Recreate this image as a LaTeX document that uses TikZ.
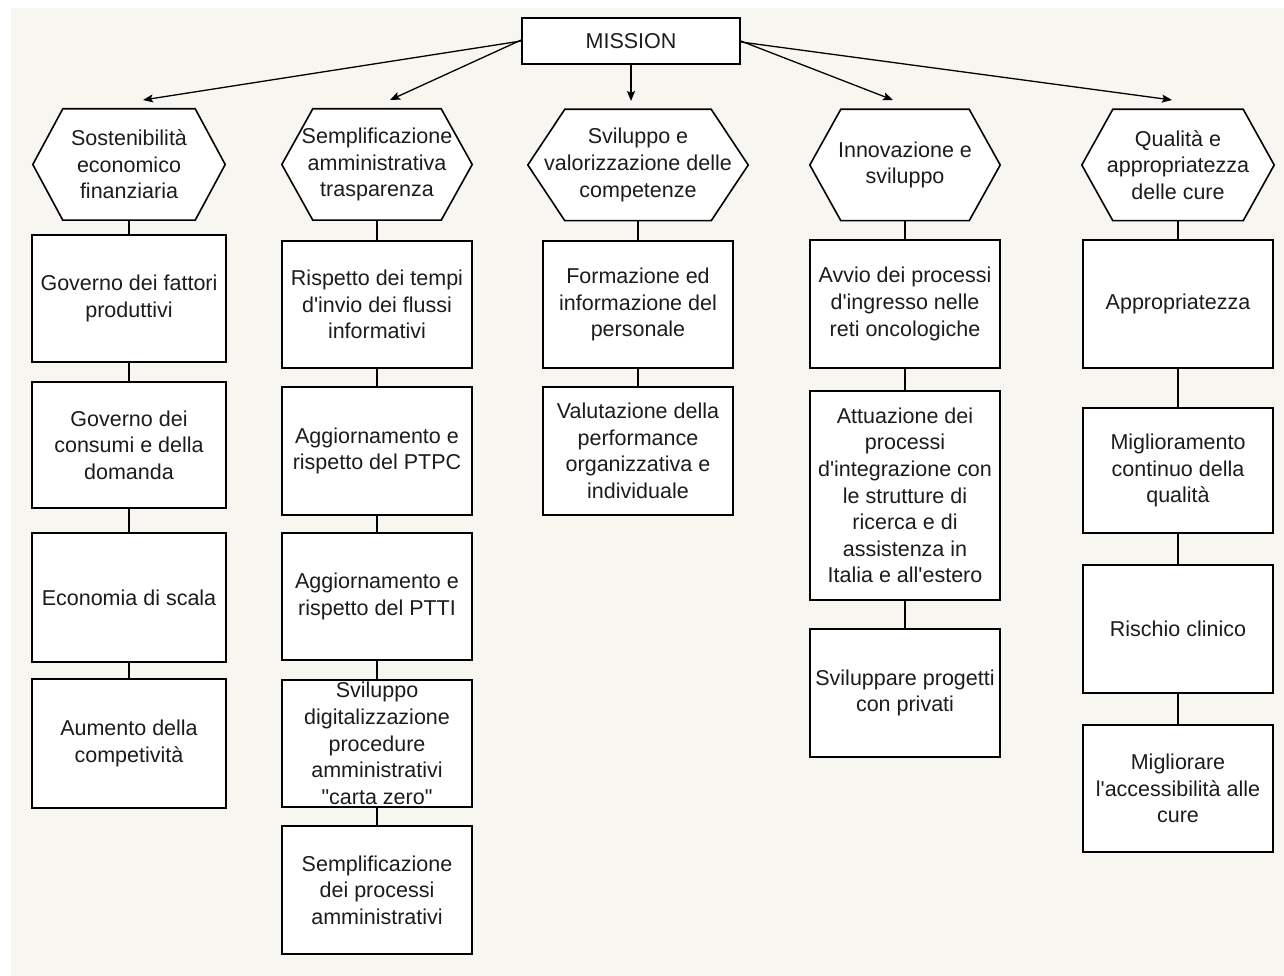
\documentclass[tikz,border=0pt]{standalone}
\usepackage{fontspec}
\setmainfont{Liberation Sans}
\usetikzlibrary{arrows.meta,backgrounds,calc}
\definecolor{bgbeige}{RGB}{248,246,241}
\definecolor{txt}{RGB}{28,28,28}
\newcommand\apos{\textquotesingle}
\begin{document}
\begin{tikzpicture}[x=1pt,y=-1pt,
  lbl/.style={align=center,text=txt,font=\fontsize{21.5}{26.6}\selectfont},
  cell/.style={lbl,draw=black,fill=white,line width=1.6pt,rectangle,inner sep=0pt,minimum width=190pt},
  hexnode/.style={lbl,rectangle,inner sep=0pt,minimum height=111pt},
  link/.style={draw=black,line width=2pt},
  arr/.style={draw=black,line width=1.3pt,-{Stealth[length=10pt,width=8pt,inset=2pt]}}
]
\useasboundingbox (0,0) rectangle (1284,976);

% top node
\node[cell,minimum width=218pt,minimum height=46pt] (mission) at (631,41) {MISSION};

% hexagon headers
\node[hexnode,minimum width=192pt] (h1) at (129,164.5) {Sostenibilità\\economico\\finanziaria};
\node[hexnode,minimum width=190pt] (h2) at (377,164.5) {Semplificazione\\amministrativa\\trasparenza};
\node[hexnode,minimum width=220pt] (h3) at (638,165) {Sviluppo e\\valorizzazione delle\\competenze};
\node[hexnode,minimum width=190pt] (h4) at (905,165) {Innovazione e\\sviluppo};
\node[hexnode,minimum width=192pt] (h5) at (1178,165) {Qualità e\\appropriatezza\\delle cure};

% column 1
\node[cell,minimum width=194pt,minimum height=127pt] (b11) at (129,298.5) {Governo dei fattori\\produttivi};
\node[cell,minimum width=194pt,minimum height=126pt] (b12) at (129,445) {Governo dei\\consumi e della\\domanda};
\node[cell,minimum width=194pt,minimum height=129pt] (b13) at (129,597.5) {Economia di scala};
\node[cell,minimum width=194pt,minimum height=129pt] (b14) at (129,743.5) {Aumento della\\competività};

% column 2
\node[cell,minimum height=127pt] (b21) at (377,304.5) {Rispetto dei tempi\\d\apos invio dei flussi\\informativi};
\node[cell,minimum height=128pt] (b22) at (377,451) {Aggiornamento e\\rispetto del PTPC};
\node[cell,minimum height=127pt] (b23) at (377,596.5) {Aggiornamento e\\rispetto del PTTI};
\node[cell,minimum height=127pt] (b24) at (377,743.5) {Sviluppo\\digitalizzazione\\procedure\\amministrativi\\\textquotedbl carta zero\textquotedbl};
\node[cell,minimum height=128pt] (b25) at (377,890) {Semplificazione\\dei processi\\amministrativi};

% column 3
\node[cell,minimum height=127pt] (b31) at (638,304.5) {Formazione ed\\informazione del\\personale};
\node[cell,minimum height=128pt] (b32) at (638,451) {Valutazione della\\performance\\organizzativa e\\individuale};

% column 4
\node[cell,minimum height=128pt] (b41) at (905,304) {Avvio dei processi\\d\apos ingresso nelle\\reti oncologiche};
\node[cell,minimum height=209pt] (b42) at (905,495.5) {Attuazione dei\\processi\\d\apos integrazione con\\le strutture di\\ricerca e di\\assistenza in\\Italia e all\apos estero};
\node[cell,minimum height=128pt] (b43) at (905,693) {Sviluppare progetti\\con privati};

% column 5
\node[cell,minimum height=128pt] (b51) at (1178,304) {Appropriatezza};
\node[cell,minimum height=125pt] (b52) at (1178,470.5) {Miglioramento\\continuo della\\qualità};
\node[cell,minimum height=128pt] (b53) at (1178,629) {Rischio clinico};
\node[cell,minimum height=127pt] (b54) at (1178,788.5) {Migliorare\\l\apos accessibilità alle\\cure};

% background and hexagon outlines
\begin{scope}[on background layer]
  \fill[white] (0,0) rectangle (1284,976);
  \fill[bgbeige] (11,8) rectangle (1284,976);
  \foreach \n/\d in {h1/30,h2/31,h3/37,h4/31,h5/31} {
    \filldraw[fill=white,draw=black,line width=1.6pt,line join=miter]
      (\n.west) -- ([xshift=\d pt]\n.north west) -- ([xshift=-\d pt]\n.north east)
      -- (\n.east) -- ([xshift=-\d pt]\n.south east) -- ([xshift=\d pt]\n.south west) -- cycle;
  }
\end{scope}

% arrow targets
\coordinate (t1) at (143,100);
\coordinate (t2) at (390,100);
\coordinate (t3) at (631,101);
\coordinate (t4) at (893,100);
\coordinate (t5) at (1172,100);

\draw[arr] (mission.west) -- (t1);
\draw[arr] ([yshift=1pt]mission.west) -- (t2);
\draw[arr] (mission.south) -- (t3);
\draw[arr] (mission.east) -- (t4);
\draw[arr] ([yshift=-1pt]mission.east) -- (t5);

% vertical connectors
\draw[link] (h1.south) -- (b11.north);
\draw[link] (b11.south) -- (b12.north);
\draw[link] (b12.south) -- (b13.north);
\draw[link] (b13.south) -- (b14.north);

\draw[link] (h2.south) -- (b21.north);
\draw[link] (b21.south) -- (b22.north);
\draw[link] (b22.south) -- (b23.north);
\draw[link] (b23.south) -- (b24.north);
\draw[link] (b24.south) -- (b25.north);

\draw[link] (h3.south) -- (b31.north);
\draw[link] (b31.south) -- (b32.north);

\draw[link] (h4.south) -- (b41.north);
\draw[link] (b41.south) -- (b42.north);
\draw[link] (b42.south) -- (b43.north);

\draw[link] (h5.south) -- (b51.north);
\draw[link] (b51.south) -- (b52.north);
\draw[link] (b52.south) -- (b53.north);
\draw[link] (b53.south) -- (b54.north);
\end{tikzpicture}
\end{document}
